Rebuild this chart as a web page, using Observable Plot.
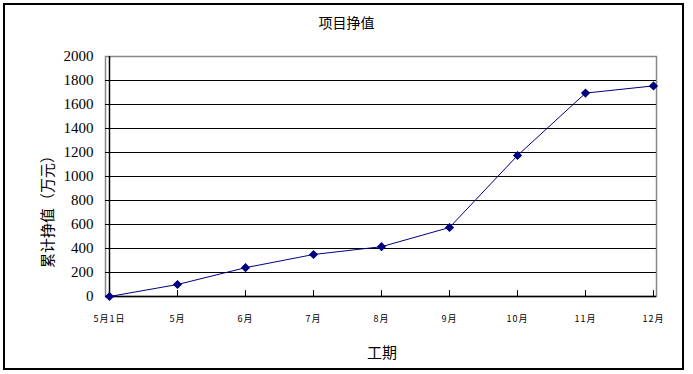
<!DOCTYPE html>
<html><head><meta charset="utf-8">
<script src="https://cdn.jsdelivr.net/npm/d3@7"></script>
<script src="https://cdn.jsdelivr.net/npm/@observablehq/plot@0.6"></script>
<style>
body{margin:0;background:#fff;}
#wrap{position:relative;width:693px;height:374px;overflow:hidden;}
#border{position:absolute;left:3px;top:3px;width:677px;height:363px;border:2px solid #000;box-sizing:content-box;}
.t{position:absolute;font-family:"Noto Sans CJK SC",sans-serif;color:#000;white-space:nowrap;}
#chart{position:absolute;left:0;top:0;}
</style></head>
<body><div id="wrap"><div id="border"></div><div id="chart"></div>
<div class="t" id="title" style="left:0;width:693px;text-align:center;top:12px;font-size:14px;">项目挣值</div>
<div class="t" id="xt" style="left:382px;transform:translateX(-50%);top:341px;font-size:15px;">工期</div>
<div class="t" id="yt" style="left:46px;top:208px;font-size:15px;transform:translate(-50%,-50%) rotate(-90deg);">累计挣值（万元）</div>
</div>
<script>
const periods = ["5月1日","5月","6月","7月","8月","9月","10月","11月","12月"];
const values = [0, 100, 240, 350, 415, 575, 1175, 1695, 1755];
const yTicks = [0,200,400,600,800,1000,1200,1400,1600,1800,2000];
const gridTicks = [200,400,600,800,1000,1200,1400,1600,1800];
const data = periods.map((p,i)=>({p, v: values[i]}));
const navy = "#000080";
const chart = Plot.plot({
  width: 693, height: 374,
  marginLeft: 105, marginRight: 37, marginTop: 56, marginBottom: 78,
  style: {background: "transparent", overflow: "visible"},
  x: {type: "point", domain: periods, padding: 0, axis: null},
  y: {domain: [0, 2000], axis: null},
  marks: [
    Plot.frame({stroke: "#888", strokeWidth: 1.5}),
    Plot.ruleY(gridTicks, {stroke: "#000", strokeWidth: 1}),
    Plot.ruleY([0], {stroke: "#000", strokeWidth: 1.5}),
    Plot.ruleX([periods[0]], {stroke: "#000", strokeWidth: 1.5}),
    Plot.ruleX(periods, {x: d=>d, y1: 0, y2: 50, stroke: "#000", strokeWidth: 1}),
    Plot.text(yTicks, {y: d=>d, text: d=>String(d), frameAnchor: "left", dx: -12, textAnchor: "end", fontFamily: "'Liberation Serif', 'DejaVu Serif', serif", fontSize: 15, fill: "#000"}),
    Plot.text(periods, {x: d=>d, text: d=>d, frameAnchor: "bottom", dy: 25, fontFamily: "'Noto Sans CJK SC', sans-serif", fontSize: 9, fill: "#000"}),
    Plot.line(data, {x: "p", y: "v", stroke: navy, strokeWidth: 1}),
    Plot.dot(data, {x: "p", y: "v", symbol: "diamond2", r: 3.2, fill: navy, stroke: navy})
  ]
});
document.getElementById("chart").appendChild(chart);
d3.select(chart).selectAll("text").filter(function(){ return /月/.test(this.textContent); }).style("letter-spacing", "1px");
</script></body></html>
